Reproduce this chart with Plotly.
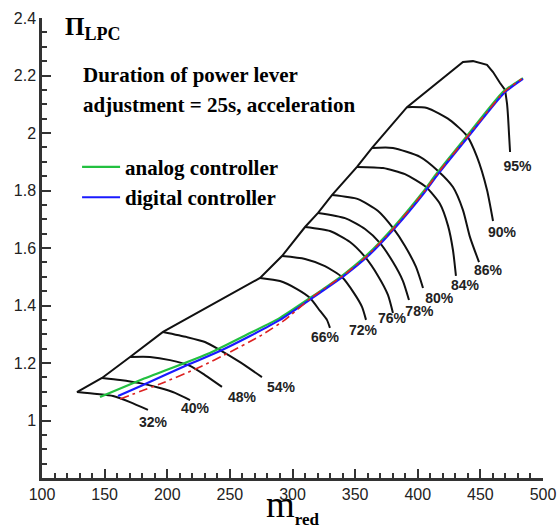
import plotly.graph_objects as go

# ---------------- data ----------------
# surge line (upper-left boundary of the map)
surge_x = [127.9, 147.9, 170.3, 196.6, 274.1, 291.6, 310.0, 320.4, 331.5, 351.5,
           363.5, 391.4, 436.1, 444.1, 455.3, 460.1, 465.7, 469.7]
surge_y = [1.099, 1.148, 1.221, 1.308, 1.496, 1.572, 1.673, 1.722, 1.784, 1.882,
           1.948, 2.090, 2.247, 2.250, 2.237, 2.212, 2.174, 2.150]

# speed lines
line32_x = [127.9, 143.9, 156.7, 170.3, 184.6]
line32_y = [1.099, 1.092, 1.085, 1.064, 1.037]
line40_x = [147.9, 162.3, 178.2, 194.2, 206.2, 218.2]
line40_y = [1.148, 1.141, 1.130, 1.113, 1.096, 1.071]
line48_x = [170.3, 186.2, 202.2, 218.2, 230.1, 243.7]
line48_y = [1.221, 1.221, 1.210, 1.190, 1.158, 1.117]
line54_x = [196.6, 215.8, 230.1, 242.1, 258.1, 275.6]
line54_y = [1.308, 1.290, 1.273, 1.245, 1.203, 1.151]
line66_x = [274.1, 290.0, 303.6, 314.0, 322.0, 327.5, 329.9]
line66_y = [1.496, 1.485, 1.457, 1.426, 1.381, 1.350, 1.322]
line72_x = [291.6, 310.0, 325.9, 339.5, 349.1, 355.5, 358.7]
line72_y = [1.572, 1.562, 1.537, 1.499, 1.443, 1.395, 1.350]
line76_x = [310.0, 329.9, 345.9, 357.9, 368.3, 376.2, 380.2]
line76_y = [1.673, 1.659, 1.621, 1.569, 1.503, 1.437, 1.374]
line78_x = [320.4, 341.9, 357.9, 369.9, 380.2, 388.2, 393.0]
line78_y = [1.722, 1.704, 1.666, 1.617, 1.551, 1.485, 1.419]
line80_x = [331.5, 352.3, 368.3, 380.2, 389.8, 398.6, 404.2]
line80_y = [1.784, 1.770, 1.729, 1.670, 1.607, 1.534, 1.461]
line84_x = [351.5, 372.3, 389.8, 406.6, 417.8, 424.2, 428.1, 430.5]
line84_y = [1.882, 1.878, 1.857, 1.812, 1.753, 1.677, 1.593, 1.503]
line86_x = [363.5, 380.2, 401.8, 416.2, 428.1, 436.1, 441.7, 448.9]
line86_y = [1.948, 1.948, 1.917, 1.868, 1.812, 1.732, 1.638, 1.551]
line90_x = [391.4, 407.4, 425.7, 439.3, 447.3, 455.3, 460.1]
line90_y = [2.090, 2.087, 2.045, 1.990, 1.917, 1.802, 1.694]
line95_x = [469.7, 471.3, 472.1, 472.9, 473.7]
line95_y = [2.150, 2.101, 2.056, 1.994, 1.934]

speed_labels = ["32%", "40%", "48%", "54%", "66%", "72%", "76%", "78%",
                "80%", "84%", "86%", "90%", "95%"]
label_x = [188.6, 222.2, 259.7, 290.8, 325.9, 356.3, 379.4, 401.3, 417.2, 437.7, 456.1, 467.3, 479.6]
label_y = [0.990, 1.037, 1.076, 1.113, 1.286, 1.310, 1.350, 1.377, 1.421, 1.466, 1.520, 1.650, 1.880]

# operating lines
analog_x = [146.3, 180.6, 234.1, 266.1, 290.0, 314.0, 340.3, 359.5, 380.2, 404.2,
            415.4, 439.3, 468.1, 484.0]
analog_y = [1.082, 1.144, 1.235, 1.304, 1.357, 1.426, 1.506, 1.576, 1.670, 1.795,
            1.861, 1.990, 2.143, 2.191]
digital_x = [160.7, 179.8, 218.2, 242.1, 266.1, 290.0, 314.8, 341.1, 360.3, 381.0,
             405.0, 416.2, 440.1, 468.9, 484.0]
digital_y = [1.085, 1.122, 1.197, 1.242, 1.294, 1.350, 1.423, 1.503, 1.572, 1.666,
             1.791, 1.857, 1.986, 2.139, 2.188]
steady_x = [162.3, 194.2, 226.1, 250.1, 274.1, 294.0, 314.4, 340.7, 359.9, 380.6,
            404.6, 415.8, 439.7, 468.5, 483.0]
steady_y = [1.075, 1.127, 1.186, 1.238, 1.294, 1.350, 1.425, 1.505, 1.574, 1.668,
            1.793, 1.859, 1.988, 2.141, 2.188]

x_ticks = [100, 150, 200, 250, 300, 350, 400, 450, 500]
y_ticks = [1.0, 1.2, 1.4, 1.6, 1.8, 2.0, 2.2, 2.4]

speed_lines = [(line32_x, line32_y), (line40_x, line40_y), (line48_x, line48_y),
               (line54_x, line54_y), (line66_x, line66_y), (line72_x, line72_y),
               (line76_x, line76_y), (line78_x, line78_y), (line80_x, line80_y),
               (line84_x, line84_y), (line86_x, line86_y), (line90_x, line90_y),
               (line95_x, line95_y)]

# ---------------- figure ----------------
SERIF = "Liberation Serif"
SANS = "Liberation Sans"
BLACK = "#111111"

fig = go.Figure()

fig.add_trace(go.Scatter(x=surge_x, y=surge_y, mode="lines",
                         line=dict(color=BLACK, width=2), showlegend=False,
                         hoverinfo="skip"))
for (sx, sy), name in zip(speed_lines, speed_labels):
    fig.add_trace(go.Scatter(x=sx, y=sy, mode="lines", name=name,
                             line=dict(color=BLACK, width=2, shape="spline", smoothing=0.6),
                             showlegend=False))

fig.add_trace(go.Scatter(x=analog_x, y=analog_y, mode="lines", name="analog controller",
                         line=dict(color="#22c040", width=2.2, shape="spline", smoothing=0.5)))
fig.add_trace(go.Scatter(x=digital_x, y=digital_y, mode="lines", name="digital controller",
                         line=dict(color="#1a1aff", width=2.2, shape="spline", smoothing=0.5)))
fig.add_trace(go.Scatter(x=steady_x, y=steady_y, mode="lines", name="steady state",
                         line=dict(color="#dd2222", width=1.6, dash="9px,4px,3px,4px",
                                   shape="spline", smoothing=0.5),
                         showlegend=False))

fig.add_trace(go.Scatter(x=label_x, y=label_y, mode="text", text=speed_labels,
                         textfont=dict(family=SANS, size=14, color="#222222", weight="bold"),
                         showlegend=False, hoverinfo="skip"))

axis_common = dict(showline=True, linecolor="#333333", linewidth=2.5,
                   ticks="inside", ticklen=9, tickwidth=2, tickcolor="#333333",
                   showgrid=False, zeroline=False, automargin=False,
                   tickfont=dict(family=SANS, size=16, color="#222222"))

fig.update_xaxes(range=[100, 500], tickmode="array", tickvals=x_ticks,
                 minor=dict(ticks="inside", ticklen=5, tickwidth=1.5, tickcolor="#333333",
                            tickmode="linear", tick0=100, dtick=10),
                 **axis_common)
fig.update_yaxes(range=[0.8, 2.4], tickmode="array", tickvals=y_ticks,
                 minor=dict(ticks="inside", ticklen=5, tickwidth=1.5, tickcolor="#333333",
                            tickmode="linear", tick0=0.8, dtick=0.05),
                 **axis_common)

fig.add_annotation(xref="paper", yref="paper", x=0.042, y=0.978, xanchor="left",
                   yanchor="middle", showarrow=False,
                   text="<b>Π<sub><span style='font-size:18px'>LPC</span></sub></b>",
                   font=dict(family=SERIF, size=25, color="#000000"))
fig.add_annotation(xref="paper", yref="paper", x=0.5, y=-0.062, xanchor="center",
                   yanchor="middle", showarrow=False,
                   text="m<sub><b><span style='font-size:17px'>red</span></b></sub>",
                   font=dict(family=SERIF, size=37, color="#000000"))
fig.add_annotation(xref="paper", yref="paper", x=0.078, y=0.876, xanchor="left",
                   yanchor="middle", showarrow=False, text="Duration of power lever",
                   font=dict(family=SERIF, size=21, color="#000000", weight="bold"))
fig.add_annotation(xref="paper", yref="paper", x=0.078, y=0.811, xanchor="left",
                   yanchor="middle", showarrow=False, text="adjustment = 25s, acceleration",
                   font=dict(family=SERIF, size=21, color="#000000", weight="bold"))

fig.update_layout(
    width=560, height=530,
    margin=dict(l=42, r=17, t=18, b=52, autoexpand=False),
    paper_bgcolor="white", plot_bgcolor="white",
    showlegend=True,
    legend=dict(x=0.07, y=0.72, xanchor="left", yanchor="top",
                bgcolor="rgba(0,0,0,0)", itemwidth=38, tracegroupgap=0,
                font=dict(family=SERIF, size=21, color="#000000", weight="bold")),
)

fig.write_html("out.html", config={"displayModeBar": False},
               post_script="document.body.style.margin='0';document.body.style.overflow='hidden';")
